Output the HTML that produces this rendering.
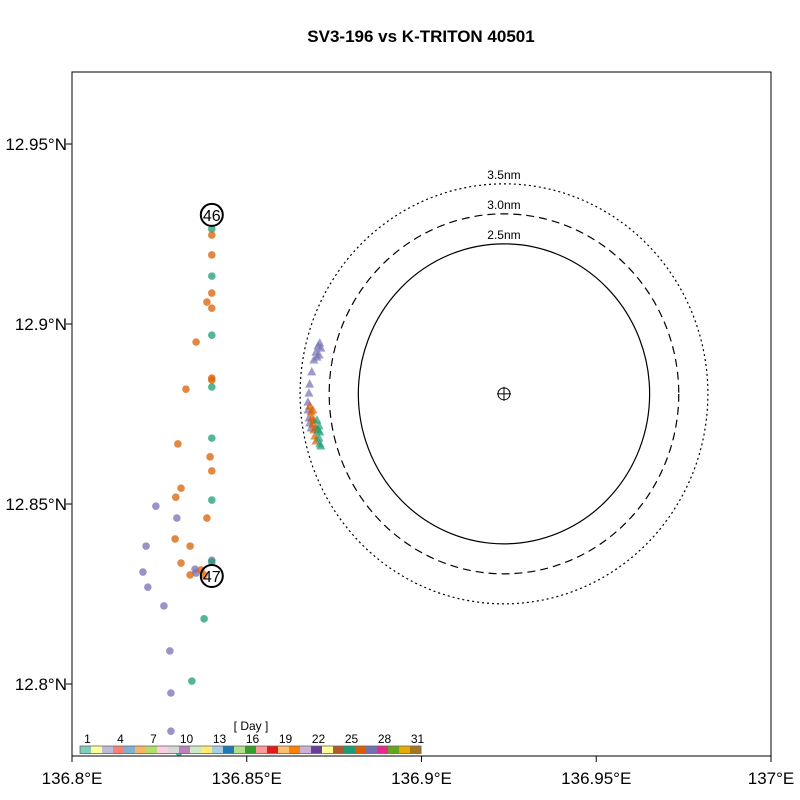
<!DOCTYPE html>
<html><head><meta charset="utf-8"><style>
body{margin:0;background:#fff}
svg{font-family:"Liberation Sans",Arial,sans-serif;display:block}
</style></head><body>
<svg id="chart" width="800" height="800" viewBox="0 0 800 800">
<rect width="800" height="800" fill="#fff"/>
<text x="421" y="42" text-anchor="middle" font-size="17" font-weight="bold">SV3-196 vs K-TRITON 40501</text>
<g id="marks"></g>
<rect x="72" y="72" width="699" height="684" fill="none" stroke="#000" stroke-width="1"/>
</svg>
<script>
const xTicks=[136.8,136.85,136.9,136.95,137];
const xTickLabels=["136.8°E","136.85°E","136.9°E","136.95°E","137°E"];
const yTicks=[12.8,12.85,12.9,12.95];
const yTickLabels=["12.8°N","12.85°N","12.9°N","12.95°N"];
const buoyLon=136.9236, buoyLat=12.8806;
const rangesNm=[2.5,3.0,3.5];
const rangeLabels=["2.5nm","3.0nm","3.5nm"];
const rangeDash=["", "8,5", "2,3"];
const greenLon=[136.84,136.84,136.84,136.84,136.84,136.84,136.84,136.8378,136.8343,136.8306];
const greenLat=[12.9264,12.9133,12.8969,12.8825,12.8683,12.8511,12.8339,12.8181,12.8008,12.7811];
const orangeLon=[136.84,136.84,136.84,136.8386,136.84,136.8355,136.84,136.84,136.8326,136.8303,136.8395,136.84,136.8312,136.8297,136.8386,136.8338,136.8295,136.8312,136.8338,136.8369,136.8378];
const orangeLat=[12.9247,12.9192,12.9086,12.9061,12.9044,12.895,12.885,12.8844,12.8819,12.8667,12.8631,12.8592,12.8544,12.8519,12.8461,12.8383,12.8403,12.8336,12.8303,12.8317,12.8303];
const purpleLon=[136.824,136.830,136.8212,136.8203,136.8217,136.8263,136.828,136.8283,136.8283,136.8352,136.8355,136.84];
const purpleLat=[12.8494,12.8461,12.8383,12.8311,12.8269,12.8217,12.8092,12.7975,12.7869,12.8319,12.8308,12.8344];
const triPurpleLon=[136.8709,136.8704,136.8712,136.8698,136.8707,136.8692,136.8701,136.8686,136.868,136.8678,136.8675,136.8675,136.8678,136.868,136.8684];
const triPurpleLat=[12.8947,12.8939,12.8933,12.8922,12.8914,12.89,12.8908,12.8867,12.8833,12.8808,12.8783,12.8761,12.8739,12.8725,12.8711];
const triOrangeLon=[136.868,136.8684,136.8686,136.8689,136.8692,136.8695,136.8698,136.8689,136.8692,136.8698];
const triOrangeLat=[12.8772,12.8756,12.8739,12.8722,12.8706,12.8689,12.8675,12.8761,12.8733,12.8711];
const triGreenLon=[136.8701,136.8707,136.8709,136.8707,136.8709,136.8712,136.8704];
const triGreenLat=[12.8733,12.8717,12.87,12.8683,12.8667,12.8661,12.8706];
const markerLabels=["46","47"];
const markerLon=[136.84,136.84];
const markerLat=[12.9303,12.8300];
const dayLabels=["1","4","7","10","13","16","19","22","25","28","31"];
const dayColors=["#7fcdbb","#ffff99","#bebada","#fb8072","#80b1d3","#fdb462","#b3de69","#fccde5","#d9d9d9","#bc80bd","#ccebc5","#ffed6f","#a6cee3","#1f78b4","#b2df8a","#33a02c","#fb9a99","#e31a1c","#fdbf6f","#ff7f00","#cab2d6","#6a3d9a","#ffff99","#b15928","#1b9e77","#d95f02","#7570b3","#e7298a","#66a61e","#e6ab02","#a6761d"];

const NS="http://www.w3.org/2000/svg";
const g=document.getElementById('marks');
const X0=72,X1=771,Y0=72,Y1=756;
const sx=v=>X0+(v-136.8)/0.2*(X1-X0);
const sy=v=>144+(12.95-v)*3600;
function mk(tag,attrs,parent){const e=document.createElementNS(NS,tag);for(const k in attrs)e.setAttribute(k,attrs[k]);(parent||g).appendChild(e);return e;}

xTicks.forEach((t,i)=>{
  const l=mk('line',{x1:sx(t),x2:sx(t),y1:Y1,y2:Y1+6,stroke:'#000'});
  
  
  const tx=mk('text',{x:sx(t),y:784,'text-anchor':'middle','font-size':17});
  tx.textContent=xTickLabels[i];
  
  
});
yTicks.forEach((t,i)=>{
  const l=mk('line',{x1:X0-6,x2:X0,y1:sy(t),y2:sy(t),stroke:'#000'});
  
  
  const tx=mk('text',{x:67,y:sy(t)+6,'text-anchor':'end','font-size':17});
  tx.textContent=yTickLabels[i];
  
  
});

const cx=sx(buoyLon), cy=sy(buoyLat);
rangesNm.forEach((nm,i)=>{
  const dLat=nm/60, dLon=nm/60/Math.cos(buoyLat*Math.PI/180);
  const ry=dLat*3600, rx=(sx(buoyLon+dLon)-cx)*0.975;
  const e=mk('ellipse',{cx:cx,cy:cy,rx:rx,ry:ry,fill:'none',stroke:'#000','stroke-width':1.2});
  if(rangeDash[i])e.setAttribute('stroke-dasharray',rangeDash[i]);
  
  
  const t=mk('text',{x:cx,y:cy-ry-5,'text-anchor':'middle','font-size':12});
  t.textContent=rangeLabels[i];
  
  
});
const b=mk('circle',{cx:cx,cy:cy,r:6,fill:'none',stroke:'#000'});


mk('line',{x1:cx-7,x2:cx+7,y1:cy,y2:cy,stroke:'#000'});
mk('line',{x1:cx,x2:cx,y1:cy-7,y2:cy+7,stroke:'#000'});

function dots(lons,lats,color){
  lons.forEach((v,i)=>{
    const c=mk('circle',{cx:sx(v),cy:sy(lats[i]),r:3.8,fill:color,'fill-opacity':0.75});
    
    
  });
}
function tris(lons,lats,color){
  lons.forEach((v,i)=>{
    const x=sx(v),y=sy(lats[i]);
    const p=mk('polygon',{points:`${x},${y-5} ${x-4.5},${y+3.5} ${x+4.5},${y+3.5}`,fill:color,'fill-opacity':0.7});
    
    
  });
}
dots(purpleLon,purpleLat,'#7570b3');
dots(greenLon,greenLat,'#1b9e77');
dots(orangeLon,orangeLat,'#d95f02');
tris(triPurpleLon,triPurpleLat,'#7570b3');
tris(triOrangeLon,triOrangeLat,'#d95f02');
tris(triGreenLon,triGreenLat,'#1b9e77');

markerLabels.forEach((lab,i)=>{
  const x=sx(markerLon[i]),y=sy(markerLat[i]);
  const c=mk('circle',{cx:x,cy:y,r:11,fill:'none',stroke:'#000','stroke-width':2});
  
  
  const t=mk('text',{x:x,y:y+6,'text-anchor':'middle','font-size':16});
  t.textContent=lab;
  
  
});

const cbX=80, cbW=341/31, cbY=746, cbH=7.5;
dayColors.forEach((col,i)=>{
  const r=mk('rect',{x:cbX+i*cbW,y:cbY,width:cbW+0.3,height:cbH,fill:col});
  
  
});
const fr=mk('rect',{x:cbX,y:cbY,width:341,height:cbH,fill:'none',stroke:'#666','stroke-width':0.8});


dayLabels.forEach(l=>{
  const d=+l;
  const t=mk('text',{x:cbX+(d-1)*cbW+cbW/2+2,y:743,'text-anchor':'middle','font-size':12});
  t.textContent=l;
  
  
});
const ct=mk('text',{x:251,y:730,'text-anchor':'middle','font-size':12});
ct.textContent='[ Day ]';


</script>
</body></html>
